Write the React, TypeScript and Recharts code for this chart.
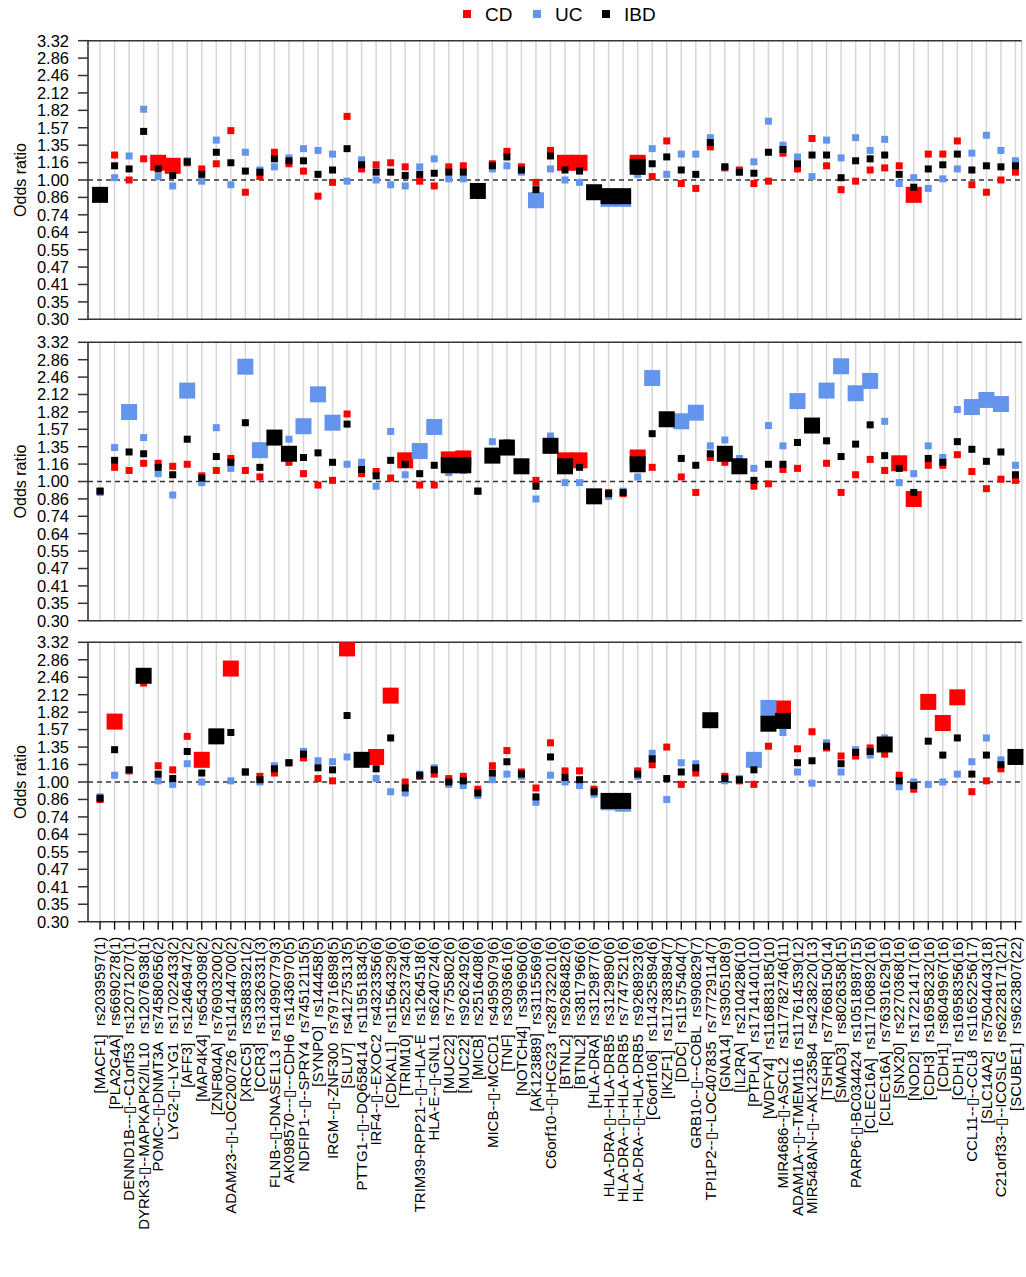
import React from 'react';
import { ScatterChart, Scatter, XAxis, YAxis, CartesianGrid, ReferenceLine } from 'recharts';

const B = '\u25AF';

const categories = [
  '[MACF1]  rs2039597(1)',
  '[PLA2G4A]  rs6690278(1)',
  `DENND1B---${B}--C1orf53  rs12071207(1)`,
  `DYRK3-${B}--MAPKAPK2/IL10  rs12076938(1)`,
  `POMC--${B}-DNMT3A  rs74580656(2)`,
  `LYG2-${B}--LYG1  rs17022433(2)`,
  '[AFF3]  rs12464947(2)',
  '[MAP4K4]  rs6543098(2)',
  '[ZNF804A]  rs76903200(2)',
  `ADAM23--${B}-LOC200726  rs114144700(2)`,
  '[XRCC5]  rs35883921(2)',
  '[CCR3]  rs13326331(3)',
  `FLNB--${B}-DNASE1L3  rs114990779(3)`,
  `AK098570---${B}---CDH6  rs1436970(5)`,
  `NDFIP1--${B}--SPRY4  rs74512115(5)`,
  '[SYNPO]  rs144458(5)',
  `IRGM--${B}-ZNF300  rs79716898(5)`,
  '[SLU7]  rs41275313(5)',
  `PTTG1--${B}--DQ658414  rs11951834(5)`,
  `IRF4--${B}--EXOC2  rs4323356(6)`,
  '[CDKAL1]  rs11564329(6)',
  '[TRIM10]  rs2523734(6)',
  `TRIM39-RPP21--${B}--HLA-E  rs1264518(6)`,
  `HLA-E--${B}-GNL1  rs6240724(6)`,
  '[MUC22]  rs7755802(6)',
  '[MUC22]  rs9262492(6)',
  '[MICB]  rs2516408(6)',
  `MICB--${B}-MCCD1  rs4959079(6)`,
  '[TNF]  rs3093661(6)',
  '[NOTCH4]  rs396960(6)',
  '[AK123889]  rs3115569(6)',
  `C6orf10--${B}-HCG23  rs28732201(6)`,
  '[BTNL2]  rs9268482(6)',
  '[BTNL2]  rs3817966(6)',
  '[HLA-DRA]  rs3129877(6)',
  `HLA-DRA-${B}--HLA-DRB5  rs3129890(6)`,
  `HLA-DRA--${B}--HLA-DRB5  rs7747521(6)`,
  `HLA-DRA--${B}--HLA-DRB5  rs9268923(6)`,
  '[C6orf106]  rs114325894(6)',
  '[IKZF1]  rs117383894(7)',
  '[DDC]  rs11575404(7)',
  `GRB10--${B}---COBL  rs990829(7)`,
  `TPI1P2--${B}--LOC407835  rs77729114(7)`,
  '[GNA14]  rs3905108(9)',
  '[IL2RA]  rs2104286(10)',
  '[PTPLA]  rs17141401(10)',
  '[WDFY4]  rs116883185(10)',
  `MIR4686--${B}-ASCL2  rs117782746(11)`,
  `ADAM1A--${B}--TMEM116  rs117614539(12)`,
  `MIR548AN--${B}--AK123584  rs4238220(13)`,
  '[TSHR]  rs77668150(14)',
  '[SMAD3]  rs8026358(15)',
  `PARP6-${B}-BC034424  rs10518987(15)`,
  '[CLEC16A]  rs117106892(16)',
  '[CLEC16A]  rs76391629(16)',
  '[SNX20]  rs2270368(16)',
  '[NOD2]  rs17221417(16)',
  '[CDH3]  rs16958232(16)',
  '[CDH1]  rs8049967(16)',
  '[CDH1]  rs16958356(16)',
  `CCL11--${B}--CCL8  rs11652256(17)`,
  '[SLC14A2]  rs75044043(18)',
  `C21orf33--${B}--ICOSLG  rs62228171(21)`,
  '[SCUBE1]  rs9623807(22)',
];

// log(odds ratio) tick positions
const logTicks = [-1.2, -1.05, -0.9, -0.75, -0.6, -0.45, -0.3, -0.15, 0, 0.15, 0.3, 0.45, 0.6, 0.75, 0.9, 1.05, 1.2];

// panel 1
const p1CD = [0.88, 1.24, 1.0, 1.2, 1.16, 1.13, 1.16, 1.1, 1.15, 1.53, 0.9, 1.03, 1.27, 1.15, 1.08, 0.87, 0.98, 1.73, 1.1, 1.14, 1.16, 1.12, 0.99, 0.95, 1.12, 1.13, 0.91, 1.15, 1.28, 1.12, 0.98, 1.29, 1.16, 1.16, 0.9, 0.87, 0.87, 1.16, 1.03, 1.4, 0.97, 0.93, 1.33, 1.11, 1.09, 0.97, 0.99, 1.26, 1.1, 1.43, 1.13, 0.92, 0.99, 1.09, 1.11, 1.13, 0.88, 1.25, 1.25, 1.4, 0.96, 0.9, 1.0, 1.07];
const p1UC = [0.88, 1.02, 1.23, 1.84, 1.03, 0.95, 1.18, 0.99, 1.41, 0.96, 1.27, 1.09, 1.12, 1.21, 1.31, 1.29, 1.25, 0.99, 1.19, 1.0, 0.96, 0.95, 1.12, 1.2, 1.01, 1.01, 0.91, 1.1, 1.13, 1.07, 0.84, 1.1, 1.0, 0.98, 0.9, 0.85, 0.85, 1.05, 1.31, 1.05, 1.25, 1.25, 1.44, 1.12, 1.07, 1.17, 1.66, 1.35, 1.22, 1.03, 1.41, 1.21, 1.44, 1.29, 1.42, 0.97, 1.02, 0.93, 1.01, 1.1, 1.26, 1.47, 1.29, 1.18];
const p1IBD = [0.88, 1.13, 1.1, 1.52, 1.1, 1.04, 1.17, 1.05, 1.27, 1.16, 1.08, 1.07, 1.2, 1.18, 1.18, 1.05, 1.09, 1.31, 1.14, 1.07, 1.07, 1.04, 1.05, 1.06, 1.07, 1.07, 0.91, 1.13, 1.22, 1.09, 0.92, 1.23, 1.09, 1.08, 0.9, 0.87, 0.87, 1.12, 1.15, 1.22, 1.09, 1.05, 1.38, 1.12, 1.07, 1.06, 1.27, 1.3, 1.15, 1.24, 1.24, 1.02, 1.18, 1.2, 1.24, 1.05, 0.94, 1.1, 1.14, 1.25, 1.09, 1.13, 1.12, 1.13];
const p1CDBig = [5, 6, 33, 34, 38, 57];
const p1UCBig = [31, 36, 37];
const p1IBDBig = [1, 27, 35, 36, 37, 38];

// panel 2
const p2CD = [0.92, 1.13, 1.1, 1.17, 1.17, 1.14, 1.16, 1.05, 1.1, 1.22, 1.1, 1.04, 1.44, 1.18, 1.07, 0.97, 1.01, 1.79, 1.07, 1.09, 1.03, 1.2, 0.97, 0.97, 1.21, 1.22, 0.92, 1.24, 1.33, 1.14, 1.01, 1.35, 1.2, 1.2, 0.88, 0.91, 0.9, 1.23, 1.13, 1.7, 1.04, 0.91, 1.23, 1.18, 1.14, 0.96, 0.98, 1.11, 1.12, 1.62, 1.17, 0.91, 1.06, 1.21, 1.1, 1.17, 0.86, 1.15, 1.15, 1.26, 1.09, 0.94, 1.02, 1.01];
const p2UC = [0.91, 1.34, 1.82, 1.46, 1.07, 0.89, 2.19, 0.99, 1.59, 1.12, 2.69, 1.31, 1.47, 1.44, 1.61, 2.12, 1.66, 1.16, 1.18, 0.96, 1.54, 1.06, 1.3, 1.6, 1.08, 1.1, 0.92, 1.41, 1.4, 1.14, 0.86, 1.48, 0.99, 0.99, 0.88, 0.88, 0.92, 1.04, 2.44, 1.7, 1.68, 1.81, 1.36, 1.43, 1.22, 1.12, 1.62, 1.36, 2.0, 1.62, 2.19, 2.7, 2.14, 2.38, 1.68, 0.99, 1.07, 1.36, 1.23, 1.86, 1.9, 2.02, 1.95, 1.15];
const p2IBD = [0.92, 1.2, 1.29, 1.27, 1.13, 1.06, 1.44, 1.03, 1.24, 1.18, 1.66, 1.13, 1.46, 1.27, 1.23, 1.28, 1.18, 1.64, 1.11, 1.05, 1.2, 1.16, 1.07, 1.15, 1.15, 1.15, 0.92, 1.25, 1.34, 1.14, 0.96, 1.36, 1.14, 1.13, 0.88, 0.9, 0.91, 1.16, 1.51, 1.71, 1.22, 1.15, 1.27, 1.27, 1.14, 1.01, 1.16, 1.16, 1.4, 1.62, 1.42, 1.24, 1.38, 1.63, 1.25, 1.12, 0.91, 1.22, 1.18, 1.41, 1.32, 1.19, 1.29, 1.06];
const p2CDBig = [22, 25, 26, 33, 34, 38, 56, 57];
const p2UCBig = [3, 7, 11, 12, 15, 16, 17, 23, 24, 39, 41, 42, 49, 51, 52, 53, 54, 61, 62, 63];
const p2IBDBig = [13, 14, 25, 26, 28, 29, 30, 32, 33, 35, 38, 40, 44, 45, 50];

// panel 3
const p3CD = [0.86, 1.68, 1.1, 2.34, 1.15, 1.11, 1.48, 1.21, 1.48, 2.65, 1.09, 1.05, 1.08, 1.18, 1.23, 1.03, 1.01, 3.15, 1.21, 1.24, 2.1, 1.0, 1.05, 1.07, 1.03, 1.05, 0.94, 1.15, 1.31, 1.09, 0.95, 1.4, 1.1, 1.1, 0.94, 0.85, 0.85, 1.1, 1.16, 1.35, 0.98, 1.08, 1.7, 1.05, 1.01, 0.98, 1.36, 1.88, 1.33, 1.54, 1.34, 1.25, 1.25, 1.34, 1.27, 1.06, 0.94, 1.99, 1.66, 2.07, 0.92, 1.01, 1.12, 1.24];
const p3UC = [0.88, 1.06, 1.11, 2.45, 1.01, 0.98, 1.17, 1.0, 1.48, 1.01, 1.09, 1.0, 1.15, 1.18, 1.3, 1.2, 1.19, 1.24, 1.21, 1.03, 0.92, 0.91, 1.07, 1.13, 0.98, 0.97, 0.89, 1.02, 1.07, 1.05, 0.84, 1.06, 1.0, 0.97, 0.9, 0.84, 0.83, 1.05, 1.28, 0.86, 1.18, 1.17, 1.7, 1.01, 1.03, 1.21, 1.89, 1.53, 1.09, 0.99, 1.4, 1.09, 1.32, 1.26, 1.46, 0.96, 1.0, 0.98, 1.0, 1.07, 1.19, 1.46, 1.21, 1.24];
const p3IBD = [0.87, 1.32, 1.11, 2.49, 1.07, 1.03, 1.3, 1.08, 1.48, 1.53, 1.09, 1.02, 1.12, 1.18, 1.27, 1.13, 1.11, 1.77, 1.21, 1.12, 1.46, 0.95, 1.06, 1.11, 1.0, 1.01, 0.91, 1.08, 1.19, 1.07, 0.88, 1.24, 1.04, 1.02, 0.92, 0.85, 0.85, 1.07, 1.22, 1.03, 1.09, 1.13, 1.7, 1.03, 1.02, 1.11, 1.65, 1.69, 1.18, 1.2, 1.36, 1.17, 1.29, 1.3, 1.38, 1.01, 0.97, 1.42, 1.26, 1.46, 1.07, 1.26, 1.16, 1.24];
const p3CDBig = [2, 8, 10, 18, 20, 21, 48, 58, 59, 60];
const p3UCBig = [36, 37, 46, 47];
const p3IBDBig = [4, 9, 19, 36, 37, 43, 47, 48, 55, 64];

const xTicks = categories.map((_, i) => i + 1);
const FONT = '"Liberation Sans", Arial, Helvetica, sans-serif';
const RED = '#ff0000';
const BLUE = '#6495ed';
const BLACK = '#000000';

type Pt = { x: number; y: number; big: boolean };

const toPoints = (vals: number[], big: number[]): Pt[] =>
  vals.map((v, i) => ({ x: i + 1, y: Math.log(v), big: big.includes(i + 1) }));

const square = (color: string) => (props: any) => {
  const { cx, cy, payload } = props;
  if (cx == null || cy == null) return <g />;
  const s = payload.big ? 16 : 7;
  return <rect x={cx - s / 2} y={cy - s / 2} width={s} height={s} fill={color} />;
};

function XTick(props: any) {
  const { x, y, payload } = props;
  return (
    <text
      x={x}
      y={y}
      transform={`rotate(-90 ${x} ${y})`}
      textAnchor="end"
      dy="0.35em"
      fontSize={15}
      fill="#000"
      style={{ whiteSpace: 'pre' }}
    >
      {categories[payload.value - 1]}
    </text>
  );
}

interface PanelProps {
  cd: number[];
  uc: number[];
  ibd: number[];
  cdBig: number[];
  ucBig: number[];
  ibdBig: number[];
  height: number;
  top: number;
  bottom: number;
  showX?: boolean;
}

function Panel({ cd, uc, ibd, cdBig, ucBig, ibdBig, height, top, bottom, showX }: PanelProps) {
  return (
    <ScatterChart width={1026} height={height} margin={{ top, right: 4.3, bottom, left: 8 }}>
      <CartesianGrid horizontal={false} stroke="#d6d6d6" strokeWidth={1.5} />
      {showX ? (
        <XAxis
          type="number"
          dataKey="x"
          domain={[0.17, 64.43]}
          ticks={xTicks}
          interval={0}
          height={350}
          tickSize={8}
          tickMargin={7}
          axisLine={false}
          tickLine={{ stroke: '#000', strokeWidth: 1.3 }}
          tick={<XTick />}
        />
      ) : (
        <XAxis type="number" dataKey="x" domain={[0.17, 64.43]} ticks={xTicks} interval={0} hide />
      )}
      <YAxis
        type="number"
        dataKey="y"
        domain={[-1.2, 1.2]}
        ticks={logTicks}
        interval={0}
        allowDataOverflow
        width={80}
        tickSize={10}
        tickMargin={9}
        tickFormatter={(v: number) => Math.exp(v).toFixed(2)}
        axisLine={{ stroke: '#333', strokeWidth: 1.5 }}
        tickLine={{ stroke: '#333', strokeWidth: 1.5 }}
        tick={{ fill: '#000', fontSize: 16.5 }}
        label={{
          value: 'Odds ratio',
          angle: -90,
          position: 'insideLeft',
          offset: 12,
          style: { textAnchor: 'middle', fontSize: 16, fill: '#000' },
        }}
      />
      <ReferenceLine y={1.2} stroke="#333" strokeWidth={1.5} />
      <ReferenceLine y={-1.2} stroke="#333" strokeWidth={1.5} />
      <ReferenceLine y={0} stroke="#333" strokeWidth={1.5} strokeDasharray="5 4" />
      <Scatter data={toPoints(cd, cdBig)} shape={square(RED)} isAnimationActive={false} />
      <Scatter data={toPoints(uc, ucBig)} shape={square(BLUE)} isAnimationActive={false} />
      <Scatter data={toPoints(ibd, ibdBig)} shape={square(BLACK)} isAnimationActive={false} />
    </ScatterChart>
  );
}

export default function App() {
  return (
    <div
      style={{
        position: 'absolute',
        left: 0,
        top: 0,
        width: 1026,
        height: 1277,
        background: '#fff',
        fontFamily: FONT,
        overflow: 'hidden',
      }}
    >
      <svg width={1026} height={30} style={{ position: 'absolute', left: 0, top: 0 }}>
        <rect x={463} y={10} width={8} height={8} fill={RED} />
        <text x={485} y={20.7} fontSize={19} fill="#000">CD</text>
        <rect x={533} y={10} width={8} height={8} fill={BLUE} />
        <text x={555} y={20.7} fontSize={19} fill="#000">UC</text>
        <rect x={602} y={10} width={8} height={8} fill={BLACK} />
        <text x={624} y={20.7} fontSize={19} fill="#000">IBD</text>
      </svg>
      <div style={{ position: 'absolute', left: 0, top: 0 }}>
        <Panel cd={p1CD} uc={p1UC} ibd={p1IBD} cdBig={p1CDBig} ucBig={p1UCBig} ibdBig={p1IBDBig} height={330} top={40.7} bottom={10.7} />
      </div>
      <div style={{ position: 'absolute', left: 0, top: 330 }}>
        <Panel cd={p2CD} uc={p2UC} ibd={p2IBD} cdBig={p2CDBig} ucBig={p2UCBig} ibdBig={p2IBDBig} height={300} top={12.3} bottom={9.3} />
      </div>
      <div style={{ position: 'absolute', left: 0, top: 630 }}>
        <Panel cd={p3CD} uc={p3UC} ibd={p3IBD} cdBig={p3CDBig} ucBig={p3UCBig} ibdBig={p3IBDBig} height={647} top={12.3} bottom={5.3} showX />
      </div>
    </div>
  );
}
